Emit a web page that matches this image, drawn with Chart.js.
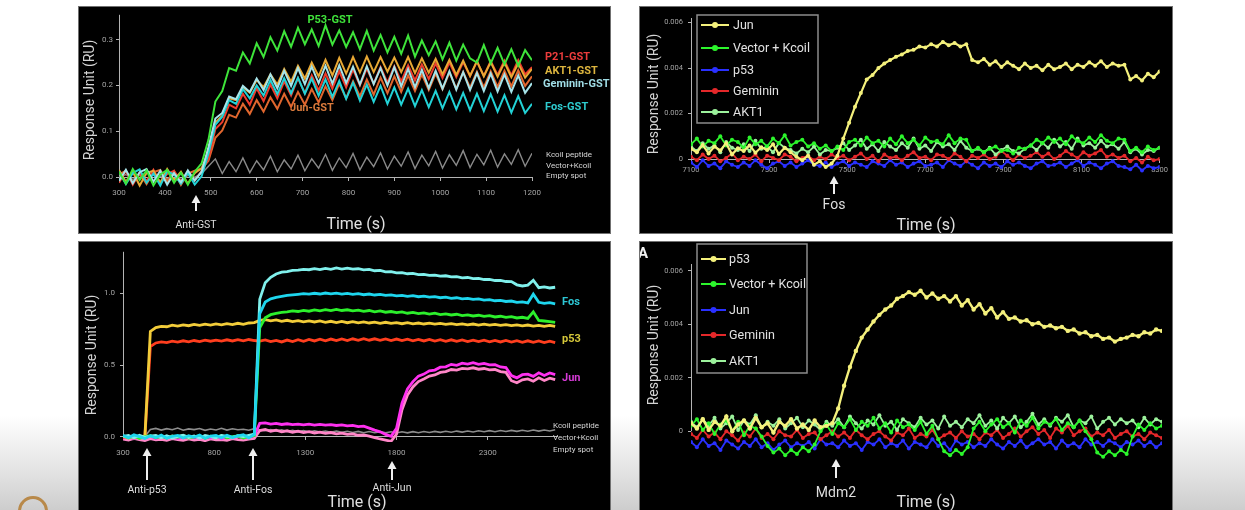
<!DOCTYPE html>
<html><head><meta charset="utf-8"><title>SPR sensorgrams</title>
<script src="https://cdn.jsdelivr.net/npm/chart.js@4.4.1/dist/chart.umd.min.js"></script>
<style>
html,body{margin:0;padding:0}
body{width:1245px;height:510px;overflow:hidden;position:relative;background:linear-gradient(to bottom,#ffffff 0px,#ffffff 415px,#e4e4e4 470px,#cdcdcd 510px);}
.panel{position:absolute;background:#000;border:1px solid #707070;}
.panel canvas{display:block}
.logo{position:absolute;left:18px;top:496px;width:30px;height:30px;border-radius:50%;border:3px solid #b8894a;box-sizing:border-box}
</style></head><body>
<div class="logo"></div>
<div class="panel" style="left:78px;top:6px;width:531px;height:226px"><canvas id="cTL" width="531" height="226"></canvas></div>
<div class="panel" style="left:639px;top:6px;width:532px;height:226px"><canvas id="cTR" width="532" height="226"></canvas></div>
<div class="panel" style="left:78px;top:241px;width:531px;height:268px"><canvas id="cBL" width="531" height="268"></canvas></div>
<div class="panel" style="left:639px;top:241px;width:532px;height:268px"><canvas id="cBR" width="532" height="268"></canvas></div>
<script>
// ---------------- Top-left: anti-GST capture (RU) ----------------
const tlTime = [300,315,330,345,360,375,390,405,420,435,450,465,480,495,510,525,540,555,570,585,600,615,630,645,660,675,690,705,720,735,750,765,780,795,810,825,840,855,870,885,900,915,930,945,960,975,990,1005,1020,1035,1050,1065,1080,1095,1110,1125,1140,1155,1170,1185,1200];
const tlP53 = [0.012,-0.014,0.018,-0.006,0.015,-0.018,0.006,0.016,-0.012,0.010,-0.016,0.012,0.030,0.082,0.165,0.188,0.238,0.232,0.272,0.248,0.292,0.262,0.305,0.276,0.318,0.284,0.326,0.290,0.322,0.286,0.331,0.289,0.320,0.284,0.316,0.279,0.319,0.276,0.310,0.272,0.306,0.269,0.309,0.263,0.298,0.266,0.296,0.257,0.293,0.254,0.289,0.259,0.250,0.288,0.248,0.282,0.246,0.279,0.243,0.277,0.255];
const tlP21 = [-0.012,0.014,-0.016,0.010,-0.008,0.016,-0.013,0.007,0.014,-0.010,0.011,-0.007,0.014,0.040,0.105,0.120,0.158,0.150,0.182,0.158,0.194,0.166,0.202,0.172,0.209,0.178,0.216,0.183,0.222,0.189,0.226,0.193,0.231,0.196,0.235,0.200,0.237,0.204,0.240,0.206,0.242,0.209,0.244,0.211,0.246,0.214,0.248,0.216,0.250,0.218,0.251,0.220,0.252,0.221,0.253,0.223,0.254,0.222,0.255,0.224,0.240];
const tlAKT1 = [0.016,-0.010,0.012,-0.018,0.009,0.014,-0.012,0.018,-0.006,0.012,-0.014,0.009,0.020,0.055,0.120,0.134,0.172,0.168,0.196,0.184,0.212,0.196,0.224,0.202,0.236,0.208,0.243,0.215,0.250,0.220,0.256,0.222,0.260,0.226,0.262,0.228,0.263,0.229,0.262,0.230,0.261,0.229,0.262,0.227,0.259,0.228,0.258,0.224,0.256,0.223,0.254,0.221,0.253,0.220,0.251,0.219,0.250,0.218,0.248,0.217,0.236];
const tlGeminin = [-0.008,0.016,-0.013,0.011,0.018,-0.010,0.014,-0.016,0.009,-0.011,0.015,-0.007,0.012,0.066,0.128,0.140,0.176,0.170,0.199,0.186,0.215,0.190,0.224,0.194,0.232,0.199,0.238,0.203,0.241,0.205,0.243,0.204,0.244,0.205,0.241,0.202,0.242,0.203,0.238,0.200,0.240,0.198,0.236,0.196,0.234,0.194,0.232,0.193,0.231,0.191,0.229,0.190,0.227,0.188,0.226,0.187,0.224,0.186,0.222,0.184,0.205];
const tlFos = [0.012,-0.015,0.009,0.017,-0.012,0.008,-0.018,0.013,0.006,-0.014,0.010,-0.016,0.002,0.052,0.114,0.132,0.168,0.160,0.192,0.172,0.200,0.178,0.212,0.181,0.216,0.183,0.217,0.182,0.215,0.178,0.213,0.175,0.210,0.171,0.206,0.167,0.202,0.164,0.199,0.160,0.196,0.158,0.193,0.155,0.190,0.153,0.188,0.150,0.186,0.148,0.184,0.146,0.182,0.144,0.181,0.143,0.179,0.141,0.177,0.140,0.160];
const tlJun = [0.006,0.014,-0.012,0.009,-0.015,0.011,0.016,-0.009,0.013,-0.017,0.008,0.014,0.018,0.036,0.086,0.102,0.136,0.130,0.160,0.138,0.168,0.143,0.174,0.149,0.182,0.153,0.186,0.158,0.192,0.163,0.198,0.168,0.204,0.172,0.209,0.176,0.213,0.180,0.217,0.183,0.220,0.186,0.222,0.188,0.224,0.190,0.226,0.192,0.228,0.193,0.229,0.195,0.230,0.196,0.231,0.197,0.232,0.198,0.233,0.199,0.220];
const tlKcoil = [0.000,0.006,-0.005,0.004,-0.006,0.005,0.002,-0.004,0.006,-0.005,0.004,0.000,0.008,0.024,0.040,0.008,0.034,0.012,0.042,0.010,0.036,0.016,0.046,0.012,0.038,0.018,0.048,0.014,0.040,0.020,0.050,0.015,0.042,0.021,0.052,0.016,0.044,0.023,0.053,0.018,0.046,0.024,0.055,0.019,0.048,0.025,0.056,0.020,0.049,0.026,0.058,0.021,0.050,0.027,0.059,0.022,0.051,0.028,0.060,0.024,0.052];
const tlXTicks = [300,400,500,600,700,800,900,1000,1100,1200];
const tlXLabels = ['300','400','500','600','700','800','900','1000','1100','1200'];
const tlYTicks = [0,0.1,0.2,0.3];
const tlYLabels = ['0.0','0.1','0.2','0.3'];
const tlInjection = 468;

// ---------------- Bottom-left: sequential antibody capture (RU) ----------------
const blTime = [300,330,360,390,420,450,480,510,540,570,600,630,660,690,720,750,780,810,840,870,900,930,960,990,1020,1050,1080,1110,1140,1170,1200,1230,1260,1290,1320,1350,1380,1410,1440,1470,1500,1530,1560,1590,1620,1650,1680,1710,1740,1770,1800,1830,1860,1890,1920,1950,1980,2010,2040,2070,2100,2130,2160,2190,2220,2250,2280,2310,2340,2370,2400,2430,2460,2490,2520,2550,2580,2610,2640,2670];
const blFosHigh = [0.004,0.010,-0.007,0.012,-0.002,0.006,0.011,-0.005,0.009,-0.008,0.004,0.013,-0.003,0.007,-0.009,0.010,0.002,-0.006,0.011,0.005,-0.004,0.009,0.003,0.012,0.020,0.960,1.075,1.112,1.135,1.148,1.152,1.160,1.163,1.168,1.165,1.172,1.166,1.175,1.168,1.178,1.170,1.176,1.169,1.172,1.164,1.167,1.158,1.160,1.150,1.152,1.143,1.145,1.137,1.139,1.131,1.133,1.126,1.128,1.120,1.123,1.115,1.117,1.109,1.111,1.103,1.105,1.097,1.098,1.090,1.091,1.083,1.082,1.060,1.052,1.058,1.092,1.040,1.046,1.038,1.043];
const blFos = [0.012,-0.006,0.015,0.002,-0.010,0.008,-0.004,0.013,-0.008,0.005,0.011,-0.007,0.009,-0.002,0.014,-0.009,0.006,0.010,-0.005,0.012,-0.003,0.008,0.015,-0.006,0.018,0.860,0.940,0.962,0.972,0.979,0.986,0.990,0.994,0.998,0.995,1.001,0.996,1.003,0.997,1.002,0.995,1.000,0.993,0.998,0.991,0.996,0.989,0.993,0.986,0.990,0.983,0.987,0.980,0.984,0.977,0.981,0.974,0.978,0.970,0.974,0.966,0.970,0.962,0.966,0.958,0.962,0.954,0.957,0.949,0.952,0.944,0.947,0.938,0.941,0.934,0.995,0.938,0.931,0.936,0.928];
const blFosGreen = [0.006,-0.005,0.008,-0.010,0.003,0.009,-0.006,0.004,-0.008,0.007,-0.003,0.010,-0.007,0.002,0.008,-0.009,0.005,-0.004,0.009,-0.006,0.003,0.007,-0.008,0.004,0.010,0.760,0.830,0.852,0.861,0.868,0.872,0.878,0.874,0.882,0.876,0.885,0.879,0.887,0.880,0.889,0.881,0.886,0.878,0.884,0.875,0.881,0.872,0.878,0.869,0.874,0.866,0.871,0.862,0.868,0.859,0.865,0.856,0.862,0.853,0.858,0.850,0.855,0.846,0.851,0.843,0.848,0.840,0.845,0.836,0.841,0.833,0.838,0.829,0.834,0.826,0.872,0.812,0.808,0.803,0.798];
const blP53 = [0.005,-0.008,0.010,-0.004,0.003,0.735,0.762,0.771,0.768,0.779,0.772,0.781,0.775,0.784,0.777,0.786,0.779,0.788,0.781,0.790,0.783,0.792,0.785,0.794,0.797,0.812,0.818,0.809,0.815,0.806,0.813,0.804,0.811,0.802,0.809,0.801,0.808,0.799,0.806,0.797,0.805,0.796,0.803,0.795,0.802,0.794,0.800,0.792,0.799,0.791,0.797,0.789,0.796,0.788,0.794,0.787,0.793,0.786,0.791,0.784,0.790,0.783,0.788,0.781,0.787,0.780,0.786,0.779,0.784,0.777,0.783,0.776,0.781,0.774,0.780,0.773,0.778,0.771,0.777,0.770];
const blP53Red = [-0.004,0.007,-0.009,0.005,-0.002,0.630,0.655,0.662,0.658,0.668,0.661,0.670,0.663,0.672,0.665,0.674,0.667,0.675,0.668,0.677,0.669,0.678,0.670,0.679,0.672,0.668,0.676,0.664,0.673,0.662,0.675,0.665,0.678,0.667,0.680,0.669,0.681,0.670,0.682,0.671,0.683,0.672,0.684,0.673,0.685,0.674,0.684,0.673,0.683,0.672,0.682,0.671,0.681,0.670,0.680,0.669,0.679,0.668,0.678,0.667,0.677,0.666,0.676,0.665,0.675,0.664,0.674,0.663,0.673,0.662,0.672,0.661,0.671,0.660,0.670,0.659,0.669,0.658,0.667,0.657];
const blJun = [-0.008,0.004,-0.012,0.002,-0.006,0.005,-0.010,0.003,-0.007,0.006,-0.011,0.001,-0.005,0.004,-0.009,0.002,-0.006,0.005,-0.012,0.003,-0.004,0.006,-0.008,0.002,0.010,0.095,0.098,0.090,0.094,0.087,0.092,0.086,0.090,0.084,0.089,0.083,0.088,0.082,0.086,0.080,0.084,0.077,0.081,0.072,0.075,0.062,0.048,0.036,0.018,0.004,0.060,0.236,0.334,0.386,0.424,0.438,0.461,0.466,0.486,0.489,0.506,0.499,0.514,0.508,0.518,0.506,0.512,0.502,0.504,0.488,0.484,0.428,0.412,0.434,0.438,0.422,0.447,0.428,0.446,0.434];
const blJunPink = [-0.015,-0.022,-0.010,-0.018,-0.025,-0.012,-0.020,-0.016,-0.024,-0.011,-0.019,-0.023,-0.014,-0.021,-0.017,-0.026,-0.013,-0.020,-0.018,-0.024,-0.012,-0.019,-0.022,-0.015,-0.010,0.045,0.052,0.040,0.047,0.036,0.043,0.033,0.040,0.030,0.037,0.028,0.034,0.025,0.031,0.022,0.027,0.018,0.022,0.012,0.015,0.006,-0.004,-0.014,-0.022,-0.030,0.020,0.190,0.292,0.348,0.386,0.404,0.424,0.432,0.450,0.455,0.470,0.466,0.478,0.474,0.482,0.472,0.477,0.468,0.470,0.455,0.450,0.392,0.378,0.398,0.404,0.388,0.412,0.394,0.410,0.400];
const blKcoil = [0.002,-0.004,0.005,-0.002,0.003,0.052,0.060,0.048,0.058,0.050,0.062,0.047,0.056,0.051,0.059,0.046,0.055,0.049,0.061,0.048,0.057,0.050,0.054,0.047,0.058,0.050,0.044,0.052,0.041,0.049,0.038,0.047,0.036,0.045,0.035,0.043,0.034,0.042,0.033,0.041,0.032,0.040,0.031,0.039,0.030,0.038,0.030,0.037,0.029,0.036,0.028,0.036,0.029,0.037,0.030,0.038,0.031,0.039,0.032,0.040,0.033,0.041,0.034,0.042,0.035,0.043,0.036,0.044,0.037,0.045,0.038,0.046,0.039,0.047,0.040,0.048,0.041,0.049,0.042,0.050];
const blXTicks = [300,800,1300,1800,2300];
const blXLabels = ['300','800','1300','1800','2300'];
const blYTicks = [0,0.5,1.0];
const blYLabels = ['0.0','0.5','1.0'];
const blInjections = [432,1013,1775];
const blInjectionLabels = ['Anti-p53','Anti-Fos','Anti-Jun'];

// ---------------- Right panels (values in 0.001 RU) ----------------
const rTime = [7100,7115,7130,7145,7160,7175,7190,7205,7220,7235,7250,7265,7280,7295,7310,7325,7340,7355,7370,7385,7400,7415,7430,7445,7460,7475,7490,7505,7520,7535,7550,7565,7580,7595,7610,7625,7640,7655,7670,7685,7700,7715,7730,7745,7760,7775,7790,7805,7820,7835,7850,7865,7880,7895,7910,7925,7940,7955,7970,7985,8000,8015,8030,8045,8060,8075,8090,8105,8120,8135,8150,8165,8180,8195,8210,8225,8240,8255,8270,8285,8300];
const rXTicks = [7100,7300,7500,7700,7900,8100,8300];
const rXLabels = ['7100','7300','7500','7700','7900','8100','8300'];
const rYTicks = [0,2,4,6];
const rYLabels = ['0','0.002','0.004','0.006'];

// top-right: Fos injection
const trJun = [0.45,0.30,0.62,0.25,0.55,0.38,0.70,0.20,0.48,0.35,0.60,0.28,0.52,0.40,0.65,0.22,0.50,0.30,0.10,-0.05,0.15,-0.25,-0.10,-0.35,-0.20,0.15,0.9,1.6,2.3,2.9,3.5,3.7,4.0,4.2,4.35,4.5,4.6,4.75,4.8,4.95,4.9,5.05,4.95,5.15,5.0,5.1,4.95,5.05,4.35,4.25,4.4,4.15,4.3,4.05,4.25,4.1,3.95,4.2,4.0,4.1,3.9,4.15,3.95,4.05,4.2,3.95,4.15,4.05,4.25,4.1,4.3,4.05,4.2,4.1,4.15,3.5,3.65,3.45,3.75,3.6,3.85];
const trVector = [0.65,0.90,0.55,0.80,0.70,1.00,0.60,0.85,0.75,0.50,0.95,0.65,0.80,0.55,0.90,0.70,1.05,0.60,0.75,0.85,0.55,0.70,0.45,0.60,0.35,0.55,0.40,0.75,0.85,0.60,0.95,0.70,0.80,0.55,0.90,0.65,1.00,0.70,0.85,0.60,0.95,0.75,0.80,0.65,1.05,0.70,0.90,0.85,0.35,0.50,0.30,0.45,0.55,0.35,0.40,0.25,0.50,0.45,0.60,0.85,0.70,0.95,0.75,0.90,0.65,1.00,0.80,0.70,0.95,0.75,1.05,0.80,0.70,0.90,0.85,0.35,0.50,0.30,0.55,0.40,0.50];
const trP53 = [-0.15,-0.35,-0.05,-0.30,-0.20,-0.40,-0.10,-0.25,-0.35,-0.15,-0.30,-0.05,-0.25,-0.40,-0.20,-0.10,-0.30,-0.15,-0.35,-0.20,-0.05,-0.25,-0.30,-0.15,-0.35,-0.20,-0.10,-0.30,-0.15,-0.25,-0.35,-0.10,-0.20,-0.30,-0.05,-0.25,-0.15,-0.35,-0.20,-0.10,-0.30,-0.25,-0.15,-0.35,-0.05,-0.20,-0.30,-0.10,-0.25,-0.40,-0.15,-0.30,-0.20,-0.35,-0.10,-0.25,-0.15,-0.30,-0.40,-0.20,-0.10,-0.30,-0.25,-0.15,-0.35,-0.20,-0.05,-0.30,-0.15,-0.25,-0.40,-0.20,-0.10,-0.30,-0.35,-0.45,-0.25,-0.50,-0.30,-0.40,-0.35];
const trGeminin = [0.10,-0.05,0.20,0.00,0.15,-0.10,0.05,0.25,-0.05,0.10,0.00,0.20,-0.10,0.15,0.05,-0.05,0.20,0.10,-0.10,0.05,0.15,-0.05,0.10,0.00,0.20,0.05,0.15,-0.05,0.10,0.25,0.00,0.15,-0.10,0.20,0.05,0.10,-0.05,0.15,0.30,0.05,0.10,-0.05,0.20,0.15,0.00,0.25,0.10,-0.10,0.15,0.05,0.20,0.00,0.10,0.35,0.15,-0.05,0.20,0.05,0.15,0.30,0.10,0.25,0.00,0.15,0.35,0.20,0.05,0.30,0.15,0.25,0.40,0.10,0.20,0.05,0.15,-0.10,0.05,-0.15,0.10,-0.05,0.00];
const trAKT1 = [0.55,0.35,0.70,0.45,0.60,0.30,0.75,0.50,0.40,0.65,0.35,0.80,0.45,0.55,0.30,0.70,0.50,0.40,0.25,0.45,0.30,0.55,0.20,0.40,0.35,0.50,0.70,0.40,0.60,0.85,0.45,0.65,0.35,0.75,0.55,0.40,0.70,0.50,0.90,0.45,0.60,0.35,0.75,0.55,0.65,0.40,0.80,0.50,0.35,0.45,0.30,0.50,0.20,0.40,0.55,0.35,0.25,0.45,0.60,0.40,0.70,0.50,0.85,0.55,0.75,0.45,0.90,0.60,0.70,0.50,0.80,0.55,0.65,0.45,0.75,0.30,0.45,0.20,0.40,0.35,0.50];
const trInjection = 7467;

// bottom-right: Mdm2 injection
const brP53 = [0.30,0.10,0.45,0.05,0.35,0.20,0.55,0.00,0.25,0.40,0.10,0.50,0.15,0.30,-0.05,0.35,0.20,0.45,0.10,0.25,0.05,0.40,0.15,0.20,0.30,0.85,1.7,2.4,3.0,3.5,3.8,4.1,4.35,4.55,4.7,4.95,5.05,5.2,5.1,5.25,5.0,5.15,4.95,5.05,4.85,5.05,4.7,4.9,4.55,4.75,4.4,4.6,4.25,4.45,4.2,4.25,4.1,4.15,4.0,4.05,3.9,3.95,3.85,3.9,3.75,3.8,3.65,3.7,3.55,3.6,3.45,3.5,3.35,3.45,3.5,3.6,3.55,3.7,3.65,3.8,3.75];
const brVector = [0.20,0.45,0.05,0.30,-0.10,0.25,0.40,0.00,0.35,-0.15,0.20,0.10,-0.20,-0.55,-0.80,-0.65,-0.90,-0.70,-0.85,-0.60,-0.75,-0.50,0.00,0.25,-0.10,0.30,0.15,0.45,0.05,0.35,0.20,0.50,0.10,0.30,-0.05,0.40,0.15,0.25,0.05,0.35,-0.10,0.20,-0.30,-0.75,-0.90,-0.70,-0.85,-0.60,0.10,0.35,0.00,0.25,0.45,0.15,0.30,-0.05,0.40,0.20,0.50,0.10,0.35,0.25,0.45,0.05,0.30,0.15,0.40,0.00,-0.30,-0.80,-0.95,-0.75,-0.90,-0.70,-0.85,-0.20,0.25,0.05,0.30,0.10,0.20];
const brJun = [-0.40,-0.60,-0.30,-0.55,-0.45,-0.70,-0.35,-0.50,-0.65,-0.40,-0.55,-0.30,-0.60,-0.45,-0.70,-0.50,-0.35,-0.60,-0.45,-0.55,-0.40,-0.65,-0.30,-0.50,-0.45,-0.60,-0.35,-0.55,-0.45,-0.70,-0.40,-0.50,-0.30,-0.60,-0.45,-0.55,-0.35,-0.65,-0.40,-0.50,-0.60,-0.30,-0.55,-0.45,-0.70,-0.35,-0.50,-0.40,-0.60,-0.45,-0.55,-0.30,-0.50,-0.65,-0.40,-0.55,-0.35,-0.60,-0.45,-0.30,-0.50,-0.40,-0.65,-0.35,-0.55,-0.45,-0.60,-0.30,-0.50,-0.40,-0.55,-0.35,-0.45,-0.60,-0.40,-0.50,-0.35,-0.55,-0.40,-0.60,-0.45];
const brGeminin = [-0.10,-0.25,0.05,-0.20,-0.05,-0.30,0.00,-0.15,-0.35,-0.05,-0.20,0.10,-0.25,-0.10,-0.30,0.00,-0.15,-0.20,0.05,-0.25,-0.10,-0.05,-0.30,-0.15,0.00,-0.20,-0.05,-0.25,0.05,-0.15,-0.30,-0.10,0.00,-0.20,-0.35,-0.05,-0.15,0.10,-0.25,-0.10,-0.20,0.05,-0.30,-0.15,-0.05,-0.25,0.00,-0.20,-0.10,-0.30,-0.05,-0.15,0.05,-0.25,-0.10,0.10,-0.20,0.00,0.15,-0.10,0.05,-0.25,0.10,-0.05,0.20,-0.15,0.00,0.10,-0.20,-0.05,-0.15,0.05,-0.25,-0.10,0.00,-0.20,-0.10,-0.30,-0.05,-0.15,-0.25];
const brAKT1 = [0.35,0.15,0.45,0.20,0.50,0.10,0.30,0.55,0.05,0.40,0.25,0.60,0.15,0.35,0.20,0.45,0.10,0.30,0.50,0.15,0.40,0.25,0.05,0.35,0.20,0.45,0.15,0.55,0.30,0.10,0.40,0.25,0.60,0.20,0.35,0.05,0.45,0.30,0.15,0.50,0.25,0.40,0.10,0.55,0.20,0.35,0.15,0.45,0.30,0.60,0.20,0.40,0.10,0.50,0.30,0.55,0.15,0.35,0.65,0.25,0.45,0.20,0.50,0.35,0.60,0.15,0.40,0.30,0.55,0.10,0.35,0.50,0.25,0.45,0.30,0.40,0.15,0.50,0.25,0.45,0.35];
const brInjection = 7470;

// ---------------- helpers ----------------
Chart.defaults.font.family = 'Roboto, "DejaVu Sans", sans-serif';
Chart.defaults.color = '#a0a0a0';
function pts(xs, ys) { return xs.map((x, i) => ({ x: x, y: ys[i] })); }
function line(label, xs, ys, color, width, order, dots) {
  return { label: label, data: pts(xs, ys), borderColor: color, backgroundColor: color,
    borderWidth: width, pointRadius: dots || 0, pointBorderWidth: 0, pointBackgroundColor: color,
    tension: 0, fill: false, order: order };
}
const AX = '#b4b4b4';
function scales(c) {
  return {
    x: { type: 'linear', min: c.xmin, max: c.xmax, position: { y: 0 },
      afterBuildTicks: s => { s.ticks = c.xt.map(v => ({ value: v })); },
      ticks: { display: c.showX, autoSkip: false, maxRotation: 0, color: '#a4a4a4', font: { size: c.tf }, padding: c.xpad, callback: (v, i) => c.xl[i] },
      grid: { display: c.showX, drawOnChartArea: false, tickLength: 3, color: AX },
      border: { display: c.showX, color: AX, width: 1 } },
    y: { type: 'linear', min: c.ymin, max: c.ymax,
      afterBuildTicks: s => { s.ticks = c.yt.map(v => ({ value: v })); },
      afterFit: s => { s.width = c.yw; },
      ticks: { color: '#a4a4a4', font: { size: c.tf }, padding: c.ypad, callback: (v, i) => c.yl[i] },
      grid: { drawOnChartArea: false, tickLength: 3, color: AX },
      border: { display: false } }
  };
}
const decor = {
  id: 'decor',
  beforeDatasetsDraw(chart, args, o) {
    const ctx = chart.ctx, ys = chart.scales.y;
    ctx.save();
    ctx.strokeStyle = AX; ctx.lineWidth = 1;
    const x = Math.round(chart.chartArea.left) + 0.5;
    ctx.beginPath(); ctx.moveTo(x, ys.top); ctx.lineTo(x, ys.getPixelForValue(0)); ctx.stroke();
    ctx.restore();
  },
  afterDraw(chart, args, o) {
    const ctx = chart.ctx, xs = chart.scales.x;
    ctx.save();
    ctx.textBaseline = 'middle';
    (o.texts || []).forEach(t => {
      ctx.save();
      ctx.font = t.font || o.font; ctx.fillStyle = t.color || '#dcdcdc'; ctx.textAlign = t.align || 'left';
      ctx.translate(t.x, t.y); if (t.rot) ctx.rotate(t.rot);
      ctx.fillText(t.text, 0, 0); ctx.restore();
    });
    (o.arrows || []).forEach(a => {
      const x = Math.round(xs.getPixelForValue(a.t));
      ctx.strokeStyle = '#efefef'; ctx.fillStyle = '#efefef'; ctx.lineWidth = 2;
      ctx.beginPath(); ctx.moveTo(x, a.top + 6); ctx.lineTo(x, a.bottom); ctx.stroke();
      ctx.beginPath(); ctx.moveTo(x, a.top); ctx.lineTo(x - 4.5, a.top + 8); ctx.lineTo(x + 4.5, a.top + 8); ctx.closePath(); ctx.fill();
      ctx.fillStyle = '#dedede'; ctx.font = a.font; ctx.textAlign = 'center';
      ctx.fillText(a.label, x, a.labelY);
    });
    if (o.legend) {
      const L = o.legend;
      ctx.fillStyle = '#000'; ctx.fillRect(L.x, L.y, L.w, L.h);
      ctx.strokeStyle = '#8c8c8c'; ctx.lineWidth = 1.5; ctx.strokeRect(L.x, L.y, L.w, L.h);
      chart.data.datasets.forEach((d, i) => {
        const y = L.ys[i];
        ctx.strokeStyle = d.borderColor; ctx.lineWidth = 2;
        ctx.beginPath(); ctx.moveTo(L.x1, y); ctx.lineTo(L.x2, y); ctx.stroke();
        ctx.fillStyle = d.borderColor;
        ctx.beginPath(); ctx.arc((L.x1 + L.x2) / 2, y, 3, 0, Math.PI * 2); ctx.fill();
        ctx.fillStyle = '#e2e2e2'; ctx.font = L.font; ctx.textAlign = 'left';
        ctx.fillText(d.label, L.tx, y + 0.5);
      });
    }
    ctx.restore();
  }
};
function make(id, datasets, sc, padding, deco) {
  return new Chart(document.getElementById(id), {
    type: 'line',
    data: { datasets: datasets },
    options: {
      responsive: false, animation: false, events: [],
      layout: { padding: padding },
      plugins: { legend: { display: false }, tooltip: { enabled: false }, decor: deco },
      scales: scales(sc)
    },
    plugins: [decor]
  });
}
const R90 = -Math.PI / 2;
const YT = 'Response Unit (RU)';

// ---------------- Top-left ----------------
make('cTL', [
  line('P53-GST', tlTime, tlP53, '#3ee43a', 2, 0),
  line('Geminin-GST', tlTime, tlGeminin, '#a6e4ea', 2, 1),
  line('Fos-GST', tlTime, tlFos, '#22d2d6', 2, 2),
  line('AKT1-GST', tlTime, tlAKT1, '#e8a834', 2, 3),
  line('P21-GST', tlTime, tlP21, '#ec3c2c', 2, 4),
  line('Jun-GST', tlTime, tlJun, '#e0662e', 2, 5),
  line('Kcoil peptide', tlTime, tlKcoil, '#8a8a8a', 1.4, 6)
], { xmin: 300, xmax: 1200, ymin: -0.03, ymax: 0.354, xt: tlXTicks, xl: tlXLabels, yt: tlYTicks, yl: tlYLabels, yw: 40, tf: 8, xpad: 8, ypad: 3, showX: true },
{ left: 0, top: 6, right: 78, bottom: 42 },
{ font: '14px Roboto',
  texts: [
    { text: YT, x: 11, y: 93, rot: R90, align: 'center', font: '14px Roboto', color: '#d4d4d4' },
    { text: 'Time (s)', x: 277, y: 218, align: 'center', font: '16px Roboto', color: '#e0e0e0' },
    { text: 'P53-GST', x: 251, y: 13, align: 'center', font: 'bold 11px Roboto', color: '#3fe23a' },
    { text: 'P21-GST', x: 466, y: 50, font: 'bold 11px Roboto', color: '#ec3c3c' },
    { text: 'AKT1-GST', x: 466, y: 64, font: 'bold 11px Roboto', color: '#dcb43e' },
    { text: 'Geminin-GST', x: 464, y: 77, font: 'bold 11px Roboto', color: '#a0dde6' },
    { text: 'Fos-GST', x: 466, y: 100, font: 'bold 11px Roboto', color: '#2ecbcf' },
    { text: 'Jun-GST', x: 211, y: 101, font: 'bold 11px Roboto', color: '#d97a3c' },
    { text: 'Kcoil peptide', x: 467, y: 148, font: '8px Roboto', color: '#d6d6d6' },
    { text: 'Vector+Kcoil', x: 467, y: 159, font: '8px Roboto', color: '#d6d6d6' },
    { text: 'Empty spot', x: 467, y: 169, font: '8px Roboto', color: '#d6d6d6' }
  ],
  arrows: [ { t: tlInjection, top: 188, bottom: 204, label: 'Anti-GST', labelY: 218, font: '10.5px Roboto' } ]
});

// ---------------- Bottom-left ----------------
make('cBL', [
  line('Fos (high)', blTime, blFosHigh, '#80f0ec', 2.8, 1),
  line('Fos', blTime, blFos, '#1ed6ee', 2.8, 0),
  line('Fos (green)', blTime, blFosGreen, '#2cf02c', 2.8, 2),
  line('p53', blTime, blP53, '#f2cc3a', 2.8, 3),
  line('p53 (red)', blTime, blP53Red, '#ff3e1e', 2.8, 4),
  line('Jun', blTime, blJun, '#ff30f0', 2.8, 5),
  line('Jun (pink)', blTime, blJunPink, '#ff86c8', 2.8, 6),
  line('Kcoil peptide', blTime, blKcoil, '#8c8c8c', 1.6, 7)
], { xmin: 300, xmax: 2680, ymin: -0.035, ymax: 1.29, xt: blXTicks, xl: blXLabels, yt: blYTicks, yl: blYLabels, yw: 44, tf: 8, xpad: 8, ypad: 5, showX: true },
{ left: 0, top: 8, right: 53, bottom: 68 },
{ texts: [
    { text: YT, x: 13, y: 113, rot: R90, align: 'center', font: '14px Roboto', color: '#d4d4d4' },
    { text: 'Time (s)', x: 278, y: 261, align: 'center', font: '16px Roboto', color: '#e0e0e0' },
    { text: 'Fos', x: 483, y: 60, font: 'bold 11px Roboto', color: '#2cc6d4' },
    { text: 'p53', x: 483, y: 97, font: 'bold 11px Roboto', color: '#d6c83a' },
    { text: 'Jun', x: 483, y: 136, font: 'bold 11px Roboto', color: '#d63ad6' },
    { text: 'Kcoil peptide', x: 474, y: 184, font: '8px Roboto', color: '#d6d6d6' },
    { text: 'Vector+Kcoil', x: 474, y: 196, font: '8px Roboto', color: '#d6d6d6' },
    { text: 'Empty spot', x: 474, y: 208, font: '8px Roboto', color: '#d6d6d6' }
  ],
  arrows: [
    { t: blInjections[0], top: 206, bottom: 238, label: blInjectionLabels[0], labelY: 248, font: '10.5px Roboto' },
    { t: blInjections[1], top: 206, bottom: 238, label: blInjectionLabels[1], labelY: 248, font: '10.5px Roboto' },
    { t: blInjections[2], top: 219, bottom: 238, label: blInjectionLabels[2], labelY: 246, font: '10.5px Roboto' }
  ]
});

// ---------------- Top-right ----------------
make('cTR', [
  line('Jun', rTime, trJun, '#f4f07c', 2.2, 0, 2),
  line('Vector + Kcoil', rTime, trVector, '#2cf52c', 1.8, 1, 2),
  line('p53', rTime, trP53, '#2a30ff', 1.8, 4, 2),
  line('Geminin', rTime, trGeminin, '#e4282a', 1.8, 3, 2),
  line('AKT1', rTime, trAKT1, '#9cf29c', 1.8, 2, 2)
], { xmin: 7100, xmax: 8300, ymin: -0.7, ymax: 6.2, xt: rXTicks, xl: rXLabels, yt: rYTicks, yl: rYLabels, yw: 51, tf: 7.5, xpad: 4, ypad: 5, showX: true },
{ left: 0, top: 11, right: 10, bottom: 58 },
{ texts: [
    { text: YT, x: 14, y: 87, rot: R90, align: 'center', font: '14px Roboto', color: '#d4d4d4' },
    { text: 'Time (s)', x: 286, y: 219, align: 'center', font: '16px Roboto', color: '#e0e0e0' }
  ],
  arrows: [ { t: trInjection, top: 169, bottom: 187, label: 'Fos', labelY: 198, font: '14px Roboto' } ],
  legend: { x: 57, y: 8, w: 121, h: 108, ys: [18, 41, 63, 84, 105], x1: 61, x2: 89, tx: 93, font: '12.5px Roboto' }
});

// ---------------- Bottom-right ----------------
make('cBR', [
  line('p53', rTime, brP53, '#f4f07c', 2.4, 0, 2.2),
  line('Vector + Kcoil', rTime, brVector, '#2cf52c', 1.8, 1, 2),
  line('Jun', rTime, brJun, '#2a30ff', 1.8, 4, 2),
  line('Geminin', rTime, brGeminin, '#e4282a', 1.8, 3, 2),
  line('AKT1', rTime, brAKT1, '#9cf29c', 1.8, 2, 2)
], { xmin: 7100, xmax: 8300, ymin: -1.3, ymax: 6.25, xt: rXTicks, xl: rXLabels, yt: rYTicks, yl: rYLabels, yw: 51, tf: 7.5, xpad: 4, ypad: 5, showX: false },
{ left: 0, top: 22, right: 10, bottom: 44 },
{ texts: [
    { text: YT, x: 14, y: 103, rot: R90, align: 'center', font: '14px Roboto', color: '#d4d4d4' },
    { text: 'Time (s)', x: 286, y: 261, align: 'center', font: '16px Roboto', color: '#e0e0e0' },
    { text: 'A', x: -2, y: 12, font: 'bold 15px Roboto', color: '#f0f0f0' }
  ],
  arrows: [ { t: brInjection, top: 217, bottom: 236, label: 'Mdm2', labelY: 251, font: '14px Roboto' } ],
  legend: { x: 57, y: 2, w: 110, h: 129, ys: [17, 42, 68, 93, 119], x1: 61, x2: 86, tx: 89, font: '12.5px Roboto' }
});
</script>
</body></html>
